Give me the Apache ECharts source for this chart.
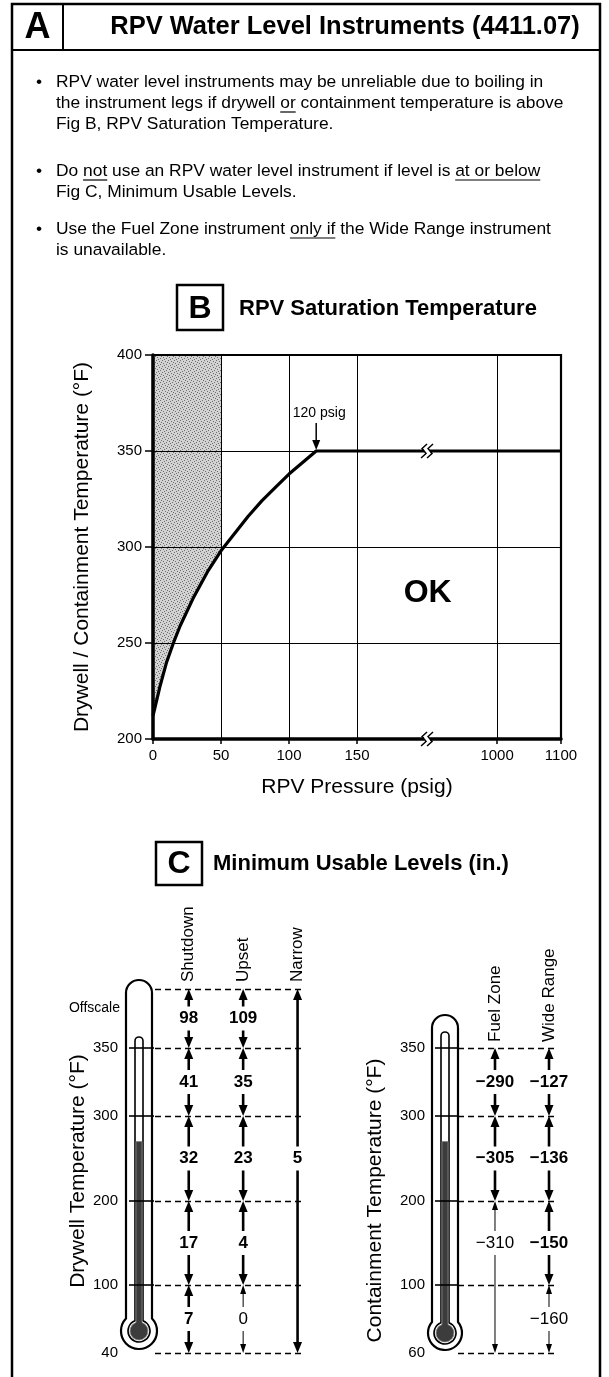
<!DOCTYPE html>
<html>
<head>
<meta charset="utf-8">
<title>RPV Water Level Instruments (4411.07)</title>
<script src="https://cdn.jsdelivr.net/npm/echarts@6.0.0/dist/echarts.min.js"></script>
<style>
  html, body { margin: 0; padding: 0; background: #fff; }
  #main { width: 609px; height: 1377px; }
</style>
</head>
<body>
<div id="main"></div>
<script>
// ---- Fig B: RPV saturation temperature ----
const pressures = [0, 5, 10, 15, 20, 30, 40, 50, 60, 70, 80, 90, 100, 110, 120, 1100];
const satTemps = [212, 227, 240, 250, 259, 274, 287, 298, 307, 316, 324, 331, 338, 344, 350, 350];
const pressureTicks = [0, 50, 100, 150, 1000, 1100];
const kneePressure = 120;
const shadeUpTo = 50; // psig, stippled "unreliable" band

// ---- Fig C: minimum usable levels (in.) ----
const drywellTicks = ['40', '100', '200', '300', '350', 'Offscale'];
const drywellInstruments = ['Shutdown', 'Upset', 'Narrow'];
const shutdownLevels = [7, 17, 32, 41, 98];
const upsetLevels = [0, 4, 23, 35, 109];
const narrowLevels = [5];

const containmentTicks = ['60', '100', '200', '300', '350'];
const containmentInstruments = ['Fuel Zone', 'Wide Range'];
const fuelZoneLevels = [-310, -305, -290];
const wideRangeLevels = [-160, -150, -136, -127];

// temperature bands each level applies to (tick indices, bottom -> top)
const drywellBands = [[0, 1], [1, 2], [2, 3], [3, 4], [4, 5]];
const narrowBands = [[0, 5]];
const fuelZoneBands = [[0, 2], [2, 3], [3, 4]];
const wideRangeBands = [[0, 1], [1, 2], [2, 3], [3, 4]];

// layout: the thermometer scale is schematic, marks are not evenly spaced
const gaugeSteps = [68, 84, 85, 68, 59];
const mercuryAt = 2.7; // tick index units
const plainLabels = ['0', '\u2212310', '\u2212160'];

const FONT = '"Liberation Sans", Arial, Helvetica, sans-serif';

// broken pressure axis: 0-150 linear, then 1000-1100 after the break
const brk = { low: 150, high: 1000, highAt: 253, highScale: 0.47 };
const px = p => p <= brk.low ? p : brk.highAt + (p - brk.high) * brk.highScale;

const gaugeAt = idx => {
  const i = Math.floor(idx);
  let s = 0;
  for (let k = 0; k < i; k++) s += gaugeSteps[k];
  if (idx > i) s += (idx - i) * gaugeSteps[i];
  return s;
};
const fmtLevel = v => v < 0 ? '\u2212' + Math.abs(v) : String(v);
const toItems = (col, levels, bands) => levels.map((v, i) => [col, bands[i][0], bands[i][1], v]);

// stipple texture for the shaded zone
const stipple = (() => {
  const c = document.createElement('canvas');
  c.width = 6; c.height = 6;
  const g = c.getContext('2d');
  g.fillStyle = '#d2d2d2';
  g.fillRect(0, 0, 6, 6);
  g.fillStyle = '#6e6e6e';
  [[0, 0], [3, 1], [1, 3], [4, 4], [2, 5], [5, 2]].forEach(([x, y]) => g.fillRect(x, y, 1, 1));
  return c;
})();

const chart = echarts.init(document.getElementById('main'));

function renderArrow(params, api) {
  const col = api.value(0);
  const from = api.value(1), to = api.value(2);
  const lo = api.coord([col, gaugeAt(from)]);
  const hi = api.coord([col, gaugeAt(to)]);
  const x = lo[0], bot = lo[1], top = hi[1];
  // label sits in the middle sub-band of a multi-band span
  const row = Math.floor((from + to) / 2);
  const mid = (api.coord([col, gaugeAt(row)])[1] + api.coord([col, gaugeAt(row + 1)])[1]) / 2;
  const label = fmtLevel(api.value(3));
  const thin = plainLabels.indexOf(label) >= 0;
  const lw = thin ? 1 : 2.6, hw = thin ? 3 : 4.5, hl = thin ? 9 : 11;
  const gap = 12;
  const ls = { stroke: '#000', lineWidth: lw };
  return {
    type: 'group',
    children: [
      { type: 'line', shape: { x1: x, y1: top + hl - 1, x2: x, y2: mid - gap }, style: ls },
      { type: 'polygon', shape: { points: [[x, top], [x - hw, top + hl], [x + hw, top + hl]] }, style: { fill: '#000' } },
      { type: 'line', shape: { x1: x, y1: mid + gap, x2: x, y2: bot - hl + 1 }, style: ls },
      { type: 'polygon', shape: { points: [[x, bot], [x - hw, bot - hl], [x + hw, bot - hl]] }, style: { fill: '#000' } },
      {
        type: 'text',
        style: {
          text: label, x: x, y: mid, align: 'center', verticalAlign: 'middle',
          textAlign: 'center', textVerticalAlign: 'middle',
          font: (thin ? 'normal' : 'bold') + ' 17px ' + FONT, fill: '#000'
        }
      }
    ]
  };
}

function shadeItem(params, api) {
  const pts = [api.coord([0, 400]), api.coord([px(shadeUpTo), 400])];
  for (let i = pressures.indexOf(shadeUpTo); i >= 0; i--) {
    pts.push(api.coord([px(pressures[i]), satTemps[i]]));
  }
  return { type: 'polygon', shape: { points: pts }, style: { fill: { image: stipple, repeat: 'repeat' } } };
}

// thermometer drawn against the gauge axis of its grid
function thermoRenderer(offsetX, topIdx, topGap, capGap, bulbGap, w, R) {
  return (params, api) => {
    const gx = params.coordSys.x;
    const cx = gx - offsetX;
    const yOf = idx => api.coord([0, gaugeAt(idx)])[1];
    const topY = yOf(topIdx) - topGap;
    const capTop = yOf(4) - capGap;
    const bulbY = yOf(0) - bulbGap;
    const mercY = yOf(mercuryAt);
    const cw = 4, cR = 11, mw = 3, mR = 9;
    const j = Math.sqrt(R * R - w * w), jc = Math.sqrt(cR * cR - cw * cw), jm = Math.sqrt(mR * mR - mw * mw);
    const outer = `M${cx - w} ${topY + w} A${w} ${w} 0 0 1 ${cx + w} ${topY + w} L${cx + w} ${bulbY - j} A${R} ${R} 0 1 1 ${cx - w} ${bulbY - j} Z`;
    const inner = `M${cx - cw} ${capTop + cw} A${cw} ${cw} 0 0 1 ${cx + cw} ${capTop + cw} L${cx + cw} ${bulbY - jc} A${cR} ${cR} 0 1 1 ${cx - cw} ${bulbY - jc} Z`;
    const merc = `M${cx - mw} ${mercY} L${cx + mw} ${mercY} L${cx + mw} ${bulbY - jm} A${mR} ${mR} 0 1 1 ${cx - mw} ${bulbY - jm} Z`;
    const children = [
      { type: 'path', shape: { pathData: outer }, style: { fill: '#fff', stroke: '#000', lineWidth: 2.2 } },
      { type: 'path', shape: { pathData: inner }, style: { fill: '#fff', stroke: '#000', lineWidth: 1.6 } },
      { type: 'path', shape: { pathData: merc }, style: { fill: '#3c3c3c', stroke: '#888', lineWidth: 0.8 } }
    ];
    // graduation marks across the tube
    for (let i = 1; i <= 4; i++) {
      const y = yOf(i);
      children.push({ type: 'line', shape: { x1: cx - 10, y1: y, x2: gx - 1, y2: y }, style: { stroke: '#000', lineWidth: 1.6 } });
    }
    return { type: 'group', children };
  };
}

const dashLine = (levels) => ({
  silent: true, symbol: ['none', 'none'], animation: false,
  label: { show: false },
  lineStyle: { color: '#000', width: 1.3, type: [6, 4] },
  data: levels.map(v => ({ yAxis: v }))
});

const drywellTickPos = drywellTicks.map((t, i) => gaugeAt(i));
const containmentTickPos = containmentTicks.map((t, i) => gaugeAt(i));

// ---------- static graphics: frame, header, bullets, figure titles ----------
const measure = document.createElement('canvas').getContext('2d');
const textW = (s, size, weight) => {
  measure.font = (weight || 'normal') + ' ' + size + 'px ' + FONT;
  return measure.measureText(s).width;
};
const txt = (s, x, y, size, weight, align) => ({
  type: 'text', silent: true, z: 30,
  style: {
    text: s, x: x, y: y, fill: '#000',
    font: (weight || 'normal') + ' ' + size + 'px ' + FONT,
    align: align || 'left', verticalAlign: 'middle',
    textAlign: align || 'left', textVerticalAlign: 'middle'
  }
});
const seg = (x1, y1, x2, y2, w) => ({
  type: 'line', silent: true, z: 30, shape: { x1, y1, x2, y2 }, style: { stroke: '#000', lineWidth: w || 1 }
});

const graphics = [];
graphics.push({ type: 'rect', silent: true, shape: { x: 12, y: 4, width: 588, height: 1385 },
  style: { fill: 'none', stroke: '#000', lineWidth: 2.5 } });
graphics.push(seg(12, 50, 600, 50, 2));
graphics.push(seg(63, 4, 63, 50, 2));
graphics.push(txt('A', 37.5, 28, 36, 'bold', 'center'));
graphics.push(txt('RPV Water Level Instruments (4411.07)', 345, 27, 25.5, 'bold', 'center'));

const BF = 17.4;
const bullets = [
  { y: 82, dot: true, parts: [['RPV water level instruments may be unreliable due to boiling in']] },
  { y: 103, parts: [['the instrument legs if drywell '], ['or', 1], [' containment temperature is above']] },
  { y: 124, parts: [['Fig B, RPV Saturation Temperature.']] },
  { y: 171, dot: true, parts: [['Do '], ['not', 1], [' use an RPV water level instrument if level is '], ['at or below', 1]] },
  { y: 192, parts: [['Fig C, Minimum Usable Levels.']] },
  { y: 229, dot: true, parts: [['Use the Fuel Zone instrument '], ['only if', 1], [' the Wide Range instrument']] },
  { y: 250, parts: [['is unavailable.']] }
];
bullets.forEach(line => {
  if (line.dot) graphics.push(txt('\u2022', 36, line.y, BF));
  let x = 56;
  line.parts.forEach(([s, u]) => {
    const w = textW(s, BF);
    graphics.push(txt(s, x, line.y, BF));
    if (u) graphics.push(seg(x, line.y + 9, x + w, line.y + 9, 1.2));
    x += w;
  });
});

graphics.push({ type: 'rect', silent: true, shape: { x: 177, y: 285, width: 46, height: 45 },
  style: { fill: 'none', stroke: '#000', lineWidth: 2.5 } });
graphics.push(txt('B', 200, 309, 32, 'bold', 'center'));
graphics.push(txt('RPV Saturation Temperature', 239, 309, 22, 'bold'));

graphics.push({ type: 'rect', silent: true, shape: { x: 156, y: 842, width: 46, height: 43 },
  style: { fill: 'none', stroke: '#000', lineWidth: 2.5 } });
graphics.push(txt('C', 179, 864, 32, 'bold', 'center'));
graphics.push(txt('Minimum Usable Levels (in.)', 213, 864, 22, 'bold'));

const axisText = { color: '#000', fontFamily: FONT };

chart.setOption({
  animation: false,
  backgroundColor: '#fff',
  textStyle: { fontFamily: FONT },
  grid: [
    { left: 153, top: 355, width: 408, height: 384, show: true, borderColor: '#000', borderWidth: 2.2 },
    { left: 155, top: 989, width: 148, height: 364 },
    { left: 458, top: 1048, width: 99, height: 305 }
  ],
  xAxis: [
    {
      type: 'value', gridIndex: 0, min: 0, max: px(1100),
      name: 'RPV Pressure (psig)', nameLocation: 'middle', nameGap: 38,
      nameTextStyle: Object.assign({ fontSize: 21 }, axisText),
      axisLine: { onZero: false, lineStyle: { color: '#000', width: 3.5 } },
      axisTick: { show: true, customValues: pressureTicks.map(px), length: 5, lineStyle: { color: '#000', width: 1.5 } },
      axisLabel: Object.assign({
        customValues: pressureTicks.map(px), fontSize: 15, margin: 9,
        formatter: v => {
          const i = pressureTicks.findIndex(p => Math.abs(px(p) - v) < 1e-6);
          return i < 0 ? '' : String(pressureTicks[i]);
        }
      }, axisText),
      splitLine: { show: false }
    },
    {
      type: 'value', gridIndex: 1, min: -0.62, max: 2.1, position: 'top',
      axisLine: { show: false }, axisTick: { show: false }, splitLine: { show: false },
      axisLabel: Object.assign({
        customValues: [0, 1, 2], rotate: 90, fontSize: 17, margin: 7,
        formatter: v => drywellInstruments[v] || ''
      }, axisText)
    },
    {
      type: 'value', gridIndex: 2, min: -0.685, max: 1.148, position: 'top',
      axisLine: { show: false }, axisTick: { show: false }, splitLine: { show: false },
      axisLabel: Object.assign({
        customValues: [0, 1], rotate: 90, fontSize: 17, margin: 6,
        formatter: v => containmentInstruments[v] || ''
      }, axisText)
    }
  ],
  yAxis: [
    {
      type: 'value', gridIndex: 0, min: 200, max: 400, interval: 50,
      name: 'Drywell / Containment Temperature (\u00B0F)', nameLocation: 'middle', nameGap: 60,
      nameTextStyle: Object.assign({ fontSize: 21 }, axisText),
      axisLine: { show: true, onZero: false, lineStyle: { color: '#000', width: 3.5 } },
      axisTick: { show: true, length: 8, lineStyle: { color: '#000', width: 1.5 } },
      axisLabel: Object.assign({ fontSize: 15, margin: 11 }, axisText),
      splitLine: { show: true, lineStyle: { color: '#000', width: 1 } }
    },
    {
      type: 'value', gridIndex: 1, min: 0, max: gaugeAt(5),
      name: 'Drywell Temperature (\u00B0F)', nameLocation: 'middle', nameGap: 63,
      nameTextStyle: Object.assign({ fontSize: 21 }, axisText),
      axisLine: { show: false },
      axisTick: { show: false },
      axisLabel: Object.assign({
        customValues: drywellTickPos.slice(0, 5), fontSize: 15, margin: 37,
        formatter: v => drywellTicks[drywellTickPos.indexOf(v)] || ''
      }, axisText),
      splitLine: { show: false }
    },
    {
      type: 'value', gridIndex: 2, min: 0, max: gaugeAt(4),
      name: 'Containment Temperature (\u00B0F)', nameLocation: 'middle', nameGap: 72,
      nameTextStyle: Object.assign({ fontSize: 21 }, axisText),
      axisLine: { show: false },
      axisTick: { show: false },
      axisLabel: Object.assign({
        customValues: containmentTickPos, fontSize: 15, margin: 33,
        formatter: v => containmentTicks[containmentTickPos.indexOf(v)] || ''
      }, axisText),
      splitLine: { show: false }
    }
  ],
  series: [
    {
      type: 'custom', xAxisIndex: 0, yAxisIndex: 0, z: -1, silent: true,
      renderItem: shadeItem, data: [[0, 400]]
    },
    {
      type: 'line', xAxisIndex: 0, yAxisIndex: 0, z: 5, silent: true,
      symbol: 'none', lineStyle: { color: '#000', width: 3.2 },
      data: pressures.map((p, i) => [px(p), satTemps[i]]),
      markLine: {
        silent: true, symbol: ['none', 'none'], animation: false,
        label: { show: false },
        lineStyle: { color: '#000', width: 1, type: 'solid' },
        data: pressureTicks.slice(1, -1).map(p => ({ xAxis: px(p) }))
      }
    },
    {
      type: 'custom', xAxisIndex: 1, yAxisIndex: 1, silent: true, clip: false,
      renderItem: thermoRenderer(16, 5, 9, 11, 22, 13, 18), data: [[0, 0]]
    },
    {
      type: 'custom', xAxisIndex: 2, yAxisIndex: 2, silent: true, clip: false,
      renderItem: thermoRenderer(13, 4, 33, 16, 20, 13, 17), data: [[0, 0]]
    },
    {
      type: 'line', xAxisIndex: 1, yAxisIndex: 1, data: [], silent: true,
      markLine: dashLine(drywellTickPos)
    },
    {
      type: 'line', xAxisIndex: 2, yAxisIndex: 2, data: [], silent: true,
      markLine: dashLine(containmentTickPos)
    },
    {
      type: 'custom', xAxisIndex: 1, yAxisIndex: 1, silent: true, renderItem: renderArrow,
      data: [].concat(
        toItems(0, shutdownLevels, drywellBands),
        toItems(1, upsetLevels, drywellBands),
        toItems(2, narrowLevels, narrowBands)
      )
    },
    {
      type: 'custom', xAxisIndex: 2, yAxisIndex: 2, silent: true, renderItem: renderArrow,
      data: [].concat(
        toItems(0, fuelZoneLevels, fuelZoneBands),
        toItems(1, wideRangeLevels, wideRangeBands)
      )
    }
  ],
  graphic: { elements: graphics }
});

// ---------- pixel-dependent annotations ----------
const toPx = (gi, pt) => chart.convertToPixel({ xAxisIndex: gi, yAxisIndex: gi }, pt);
const yPx = (gi, v) => chart.convertToPixel({ yAxisIndex: gi }, v);

const extra = [];
extra.push(txt('Offscale', 120, yPx(1, gaugeAt(5)) + 19, 14, 'normal', 'right'));
// 120 psig callout
{
  const k = toPx(0, [px(kneePressure), 350]);
  extra.push(txt(kneePressure + ' psig', k[0] + 3, k[1] - 38, 14, 'normal', 'center'));
  extra.push(seg(k[0], k[1] - 28, k[0], k[1] - 8, 1.5));
  extra.push({ type: 'polygon', silent: true, z: 30, shape: { points: [[k[0], k[1] - 1], [k[0] - 4, k[1] - 11], [k[0] + 4, k[1] - 11]] }, style: { fill: '#000' } });
}
// OK region label
{
  const o = toPx(0, [202, 276]);
  extra.push(txt('OK', o[0], o[1], 32, 'bold', 'center'));
}
// axis break marks
[350, 200].forEach(t => {
  const b = toPx(0, [(px(brk.low) + px(brk.high)) / 2, t]);
  extra.push({ type: 'rect', silent: true, z: 40, shape: { x: b[0] - 3, y: b[1] - 3, width: 6, height: 6 }, style: { fill: '#fff' } });
  [-3, 3].forEach(dx => {
    extra.push({
      type: 'polyline', silent: true, z: 41,
      shape: { points: [[b[0] + dx + 3, b[1] - 7], [b[0] + dx - 2, b[1] - 2.5], [b[0] + dx + 2, b[1] + 2.5], [b[0] + dx - 3, b[1] + 7]] },
      style: { stroke: '#000', lineWidth: 1.5, fill: 'none' }
    });
  });
});

chart.setOption({ graphic: { elements: graphics.concat(extra) } });
</script>
</body>
</html>
